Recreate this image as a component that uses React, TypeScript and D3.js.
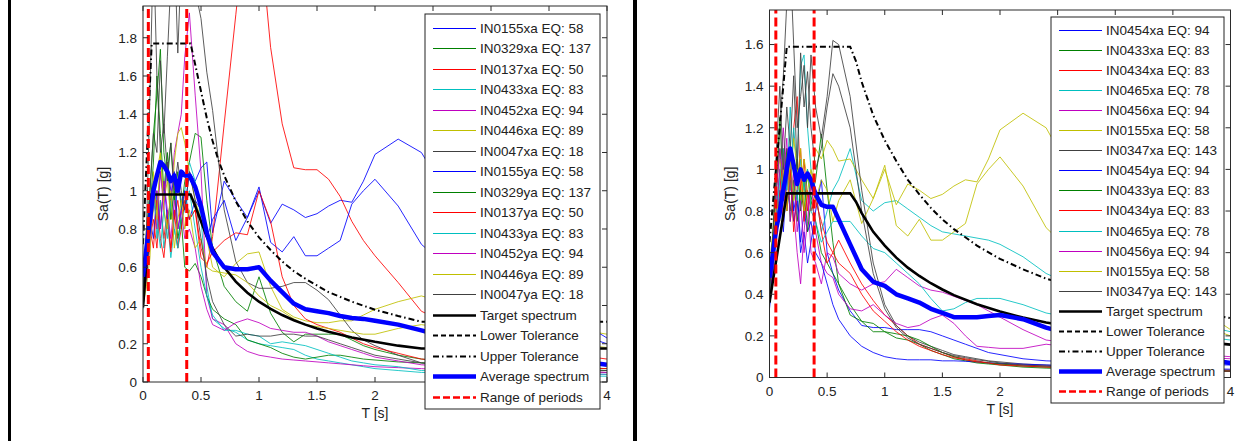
import React from 'react';
import * as d3 from 'd3';

// ---------- shared period grid (s) ----------
const T_GRID = [0, 0.03, 0.06, 0.09, 0.12, 0.15, 0.18, 0.21, 0.24, 0.27, 0.30, 0.33, 0.36, 0.40, 0.45, 0.50, 0.55, 0.60, 0.70, 0.80, 0.90, 1.0, 1.1, 1.2, 1.3, 1.4, 1.5, 1.6, 1.7, 1.8, 1.9, 2.0, 2.2, 2.4, 3.0, 4.0];

const X_TICKS = [0, 0.5, 1, 1.5, 2, 2.5, 3, 3.5, 4];
const X_TICK_LABELS = ['0', '0.5', '1', '1.5', '2', '2.5', '3', '3.5', '4'];
const L_Y_TICKS = [0, 0.2, 0.4, 0.6, 0.8, 1, 1.2, 1.4, 1.6, 1.8];
const L_Y_TICK_LABELS = ['0', '0.2', '0.4', '0.6', '0.8', '1', '1.2', '1.4', '1.6', '1.8'];
const R_Y_TICKS = [0, 0.2, 0.4, 0.6, 0.8, 1, 1.2, 1.4, 1.6];
const R_Y_TICK_LABELS = ['0', '0.2', '0.4', '0.6', '0.8', '1', '1.2', '1.4', '1.6'];

// ---------- left panel records ----------
const L_NAMES = ['IN0155xa EQ: 58', 'IN0329xa EQ: 137', 'IN0137xa EQ: 50', 'IN0433xa EQ: 83', 'IN0452xa EQ: 94', 'IN0446xa EQ: 89', 'IN0047xa EQ: 18', 'IN0155ya EQ: 58', 'IN0329ya EQ: 137', 'IN0137ya EQ: 50', 'IN0433ya EQ: 83', 'IN0452ya EQ: 94', 'IN0446ya EQ: 89', 'IN0047ya EQ: 18'];

const L_IN0155XA = [0.55, 0.7, 0.95, 1.05, 0.9, 1.1, 0.95, 1.15, 1.0, 0.85, 1.05, 0.95, 0.9, 1.1, 1.05, 1.12, 1.15, 0.78, 1.05, 0.95, 0.86, 1.0, 0.83, 0.93, 0.9, 0.86, 0.88, 0.92, 0.95, 0.94, 1.05, 1.19, 1.27, 1.2, 0.6, 0.23];
const L_IN0329XA = [0.5, 0.8, 1.0, 1.3, 1.5, 1.74, 1.2, 1.05, 1.25, 0.95, 1.1, 0.9, 1.05, 1.15, 1.3, 1.28, 0.95, 0.7, 0.5, 0.42, 0.37, 0.55, 0.36, 0.26, 0.21, 0.25, 0.25, 0.25, 0.25, 0.22, 0.19, 0.17, 0.14, 0.12, 0.09, 0.07];
const L_IN0137XA = [0.45, 0.6, 0.75, 0.85, 0.7, 0.95, 0.75, 0.9, 0.7, 0.85, 0.95, 0.8, 1.0, 0.85, 0.9, 0.7, 0.6, 0.76, 1.35, 1.92, 2.5, 2.4, 1.75, 1.35, 1.12, 1.11, 1.11, 1.06, 0.97, 0.84, 0.74, 0.66, 0.52, 0.37, 0.2, 0.12];
const L_IN0433XA = [0.38, 0.55, 0.85, 1.05, 0.75, 0.95, 0.7, 0.85, 0.65, 0.8, 0.7, 0.9, 1.0, 1.15, 1.05, 0.85, 0.5, 0.33, 0.28, 0.26, 0.22, 0.2, 0.19, 0.18, 0.17, 0.14, 0.12, 0.11, 0.1, 0.09, 0.08, 0.07, 0.06, 0.05, 0.04, 0.03];
const L_IN0452XA = [0.45, 0.6, 0.85, 1.0, 0.8, 1.1, 0.9, 1.15, 0.95, 1.2, 1.3, 1.4, 1.7, 1.93, 1.5, 1.1, 0.45, 0.33, 0.3, 0.2, 0.16, 0.14, 0.13, 0.12, 0.115, 0.11, 0.105, 0.1, 0.095, 0.09, 0.085, 0.08, 0.075, 0.07, 0.05, 0.04];
const L_IN0446XA = [0.5, 0.6, 0.75, 0.9, 1.1, 1.2, 0.95, 1.05, 0.85, 1.15, 1.3, 1.33, 1.25, 1.1, 0.95, 0.85, 0.75, 0.6, 0.55, 0.62, 0.67, 0.68, 0.5, 0.38, 0.34, 0.32, 0.31, 0.31, 0.32, 0.32, 0.35, 0.38, 0.42, 0.45, 0.35, 0.25];
const L_IN0047XA = [0.45, 0.7, 1.0, 1.3, 1.2, 1.68, 1.3, 1.7, 2.1, 2.3, 1.72, 2.2, 2.3, 2.2, 2.05, 1.9, 1.62, 1.42, 0.9, 0.63, 0.52, 0.49, 0.49, 0.5, 0.52, 0.52, 0.48, 0.43, 0.35, 0.27, 0.22, 0.19, 0.14, 0.1, 0.07, 0.05];
const L_IN0155YA = [0.5, 0.65, 0.85, 0.75, 1.0, 0.8, 1.05, 0.85, 0.95, 1.1, 0.8, 0.9, 1.0, 0.85, 0.95, 0.9, 0.75, 0.85, 0.95, 0.74, 0.86, 1.02, 0.73, 0.68, 0.76, 0.66, 0.66, 0.7, 0.74, 0.93, 1.0, 1.06, 0.92, 0.72, 0.4, 0.2];
const L_IN0329YA = [0.45, 0.7, 0.9, 1.15, 1.6, 1.3, 1.0, 1.2, 0.85, 1.0, 0.75, 0.85, 0.6, 0.58, 0.62, 0.55, 0.45, 0.38, 0.33, 0.3, 0.22, 0.2, 0.18, 0.15, 0.13, 0.12, 0.13, 0.14, 0.14, 0.13, 0.12, 0.115, 0.105, 0.1, 0.08, 0.06];
const L_IN0137YA = [0.42, 0.55, 0.8, 0.7, 0.95, 0.75, 0.65, 0.85, 0.68, 0.9, 0.7, 0.8, 0.95, 0.85, 0.9, 0.65, 0.62, 0.68, 0.74, 0.78, 0.77, 1.0, 0.84, 0.55, 0.4, 0.33, 0.3, 0.28, 0.26, 0.23, 0.2, 0.18, 0.15, 0.12, 0.09, 0.07];
const L_IN0433YA = [0.4, 0.6, 0.75, 0.95, 0.85, 0.7, 0.9, 0.75, 0.95, 0.8, 0.7, 0.85, 0.9, 1.0, 0.8, 0.6, 0.45, 0.35, 0.27, 0.27, 0.25, 0.24, 0.2, 0.21, 0.2, 0.19, 0.17, 0.15, 0.13, 0.11, 0.1, 0.09, 0.08, 0.06, 0.05, 0.04];
const L_IN0452YA = [0.4, 0.55, 0.7, 0.95, 1.0, 0.8, 1.05, 0.9, 0.75, 0.95, 0.8, 0.9, 0.75, 0.8, 0.7, 0.5, 0.38, 0.3, 0.27, 0.31, 0.33, 0.31, 0.28, 0.27, 0.26, 0.26, 0.24, 0.21, 0.19, 0.17, 0.15, 0.13, 0.11, 0.09, 0.07, 0.05];
const L_IN0446YA = [0.4, 0.5, 0.65, 1.1, 0.85, 1.2, 0.9, 0.8, 1.0, 0.7, 0.85, 0.95, 0.8, 0.9, 0.7, 0.75, 0.6, 0.58, 0.57, 0.56, 0.52, 0.45, 0.4, 0.37, 0.33, 0.3, 0.29, 0.28, 0.27, 0.26, 0.25, 0.25, 0.28, 0.3, 0.25, 0.18];
const L_IN0047YA = [0.4, 0.8, 1.5, 2.3, 1.6, 1.2, 1.35, 1.1, 1.25, 1.0, 1.15, 1.0, 0.9, 1.1, 0.95, 0.75, 0.55, 0.42, 0.3, 0.24, 0.25, 0.24, 0.24, 0.25, 0.25, 0.24, 0.24, 0.22, 0.2, 0.18, 0.16, 0.14, 0.12, 0.1, 0.08, 0.06];

const L_AVERAGE = [0.55, 0.7, 0.85, 1.0, 1.08, 1.15, 1.13, 1.1, 1.05, 1.08, 1.0, 1.1, 1.08, 1.08, 1.02, 0.92, 0.78, 0.68, 0.6, 0.59, 0.59, 0.6, 0.53, 0.47, 0.41, 0.38, 0.37, 0.36, 0.345, 0.335, 0.33, 0.32, 0.3, 0.27, 0.17, 0.09];

const L_TARGET_T = [0, 0.075, 0.41, 0.45, 0.5, 0.55, 0.6, 0.65, 0.7, 0.8, 0.9, 1.0, 1.1, 1.2, 1.3, 1.4, 1.5, 1.6, 1.8, 2.0, 2.2, 2.4, 4.0];
const L_TARGET = [0.39, 0.98, 0.98, 0.92, 0.84, 0.76, 0.70, 0.645, 0.60, 0.525, 0.467, 0.42, 0.382, 0.35, 0.323, 0.30, 0.28, 0.263, 0.233, 0.21, 0.19, 0.175, 0.175];
const L_UPPER = [0.72, 1.77, 1.77, 1.66, 1.52, 1.38, 1.26, 1.16, 1.08, 0.945, 0.84, 0.756, 0.69, 0.63, 0.58, 0.54, 0.505, 0.47, 0.42, 0.378, 0.345, 0.315, 0.315];
const L_RANGE = [0.046, 0.377];

// ---------- right panel records ----------
const R_NAMES = ['IN0454xa EQ: 94', 'IN0433xa EQ: 83', 'IN0434xa EQ: 83', 'IN0465xa EQ: 78', 'IN0456xa EQ: 94', 'IN0155xa EQ: 58', 'IN0347xa EQ: 143', 'IN0454ya EQ: 94', 'IN0433ya EQ: 83', 'IN0434ya EQ: 83', 'IN0465ya EQ: 78', 'IN0456ya EQ: 94', 'IN0155ya EQ: 58', 'IN0347ya EQ: 143'];

const R_IN0454XA = [0.33, 0.5, 0.7, 0.85, 1.0, 0.8, 0.95, 0.75, 0.85, 0.6, 0.7, 0.55, 0.65, 0.8, 0.95, 0.6, 0.5, 0.42, 0.32, 0.25, 0.24, 0.24, 0.23, 0.23, 0.23, 0.22, 0.2, 0.18, 0.16, 0.14, 0.12, 0.11, 0.09, 0.08, 0.07, 0.06];
const R_IN0433XA = [0.4, 0.6, 0.9, 1.1, 0.85, 1.0, 0.8, 0.95, 0.75, 0.9, 0.8, 1.0, 0.85, 0.95, 1.17, 0.9, 0.65, 0.45, 0.3, 0.27, 0.26, 0.22, 0.19, 0.18, 0.16, 0.13, 0.11, 0.09, 0.08, 0.07, 0.065, 0.06, 0.05, 0.045, 0.035, 0.03];
const R_IN0434XA = [0.45, 0.6, 0.8, 1.0, 0.75, 1.1, 0.9, 1.2, 1.35, 0.9, 1.05, 0.8, 0.95, 0.85, 0.75, 0.65, 0.6, 0.66, 0.55, 0.45, 0.37, 0.3, 0.25, 0.2, 0.16, 0.14, 0.12, 0.1, 0.09, 0.08, 0.07, 0.065, 0.06, 0.055, 0.045, 0.035];
const R_IN0465XA = [0.35, 0.55, 0.8, 1.0, 0.85, 1.1, 0.9, 1.2, 1.0, 1.5, 1.55, 1.2, 1.0, 0.9, 0.7, 0.8, 0.9, 0.95, 1.1, 0.85, 0.8, 0.84, 0.85, 0.81, 0.77, 0.73, 0.7, 0.69, 0.68, 0.67, 0.66, 0.64, 0.58, 0.5, 0.35, 0.22];
const R_IN0456XA = [0.4, 0.55, 0.8, 1.0, 1.2, 0.9, 1.1, 0.8, 0.6, 0.45, 0.7, 0.9, 0.6, 0.55, 0.45, 0.6, 0.58, 0.5, 0.45, 0.42, 0.45, 0.46, 0.52, 0.48, 0.44, 0.42, 0.41, 0.39, 0.37, 0.35, 0.32, 0.29, 0.23, 0.18, 0.14, 0.1];
const R_IN0155XA = [0.55, 0.7, 0.95, 1.05, 0.9, 1.1, 0.95, 1.15, 1.0, 0.85, 1.05, 0.95, 0.9, 1.1, 1.05, 1.14, 1.1, 1.04, 1.05, 0.95, 0.86, 1.0, 0.83, 0.93, 0.9, 0.86, 0.88, 0.92, 0.95, 0.94, 1.05, 1.19, 1.27, 1.2, 0.6, 0.23];
const R_IN0347XA = [0.4, 0.6, 0.9, 1.2, 1.45, 1.8, 2.0, 1.6, 1.2, 1.35, 1.5, 1.2, 1.55, 1.3, 1.15, 1.35, 1.62, 1.6, 1.35, 0.9, 0.55, 0.35, 0.25, 0.2, 0.17, 0.15, 0.13, 0.11, 0.1, 0.09, 0.08, 0.075, 0.065, 0.06, 0.045, 0.035];
const R_IN0454YA = [0.35, 0.55, 0.75, 0.9, 0.7, 0.95, 1.05, 0.8, 0.9, 0.65, 0.8, 0.7, 0.75, 0.6, 0.55, 0.45, 0.35, 0.28, 0.2, 0.15, 0.12, 0.1, 0.09, 0.085, 0.085, 0.085, 0.08, 0.08, 0.078, 0.075, 0.07, 0.068, 0.064, 0.06, 0.05, 0.04];
const R_IN0433YA = [0.45, 0.7, 0.95, 1.25, 0.9, 1.1, 0.75, 0.9, 1.05, 0.8, 0.95, 0.7, 0.85, 0.75, 0.6, 0.55, 0.5, 0.45, 0.35, 0.27, 0.22, 0.22, 0.21, 0.2, 0.18, 0.15, 0.12, 0.1, 0.085, 0.075, 0.07, 0.065, 0.055, 0.05, 0.04, 0.03];
const R_IN0434YA = [0.4, 0.55, 0.7, 0.9, 1.1, 0.8, 1.0, 0.7, 0.9, 1.1, 0.75, 0.9, 0.8, 0.9, 0.7, 0.55, 0.6, 0.55, 0.5, 0.4, 0.32, 0.27, 0.22, 0.18, 0.15, 0.13, 0.11, 0.095, 0.085, 0.075, 0.07, 0.06, 0.055, 0.05, 0.04, 0.03];
const R_IN0465YA = [0.4, 0.6, 0.75, 0.95, 1.1, 0.9, 1.3, 1.0, 0.85, 1.05, 0.9, 1.0, 0.8, 0.75, 0.65, 0.7, 0.75, 0.75, 0.75, 0.68, 0.62, 0.6, 0.55, 0.5, 0.45, 0.38, 0.32, 0.33, 0.36, 0.38, 0.38, 0.38, 0.35, 0.31, 0.25, 0.18];
const R_IN0456YA = [0.45, 0.6, 0.9, 1.1, 0.95, 1.15, 0.75, 1.0, 0.7, 0.85, 0.6, 0.75, 0.95, 0.7, 0.55, 0.5, 0.48, 0.4, 0.33, 0.32, 0.35, 0.3, 0.26, 0.24, 0.25, 0.28, 0.3, 0.26, 0.2, 0.15, 0.145, 0.14, 0.14, 0.16, 0.12, 0.09];
const R_IN0155YA = [0.5, 0.65, 0.85, 0.75, 1.0, 0.8, 1.05, 0.85, 0.95, 1.1, 0.8, 0.9, 1.0, 0.85, 0.95, 0.9, 0.75, 0.85, 0.95, 0.74, 0.86, 1.02, 0.73, 0.68, 0.76, 0.66, 0.66, 0.7, 0.74, 0.93, 1.0, 1.06, 0.92, 0.72, 0.4, 0.2];
const R_IN0347YA = [0.38, 0.7, 1.1, 1.4, 1.0, 1.3, 1.1, 1.45, 1.0, 1.56, 1.3, 1.47, 1.2, 1.0, 1.1, 1.3, 1.46, 1.4, 1.2, 0.8, 0.5, 0.33, 0.24, 0.19, 0.16, 0.14, 0.12, 0.105, 0.095, 0.085, 0.078, 0.07, 0.06, 0.055, 0.04, 0.03];

const R_AVERAGE = [0.48, 0.6, 0.72, 0.8, 0.9, 1.0, 1.1, 1.02, 0.93, 1.0, 0.95, 0.98, 0.95, 0.88, 0.83, 0.82, 0.82, 0.76, 0.64, 0.52, 0.46, 0.44, 0.4, 0.38, 0.36, 0.33, 0.31, 0.29, 0.29, 0.29, 0.295, 0.3, 0.28, 0.24, 0.15, 0.07];

const R_TARGET_T = [0, 0.15, 0.7, 0.75, 0.8, 0.85, 0.9, 1.0, 1.1, 1.2, 1.3, 1.4, 1.5, 1.6, 1.8, 2.0, 2.2, 2.4, 3.0, 4.0];
const R_TARGET = [0.36, 0.885, 0.885, 0.845, 0.79, 0.745, 0.70, 0.634, 0.576, 0.528, 0.488, 0.453, 0.423, 0.396, 0.352, 0.317, 0.288, 0.264, 0.211, 0.158];
const R_UPPER = [0.65, 1.59, 1.59, 1.52, 1.42, 1.34, 1.26, 1.14, 1.04, 0.95, 0.88, 0.815, 0.76, 0.713, 0.634, 0.57, 0.52, 0.475, 0.38, 0.285];
const R_RANGE = [0.055, 0.387];

// ---------- styles ----------
const REC_COLORS = ['#0000ff', '#008000', '#ff0000', '#00bfbf', '#bf00bf', '#bfbf00', '#404040'];
const FONT = 'Liberation Sans, Arial, Helvetica, sans-serif';
const AX = '#2b2b2b';

type PanelCfg = {
  id: string;
  left: number; right: number; top: number; bottom: number; yMax: number;
  yTicks: number[]; yTickLabels: string[];
  names: string[]; records: number[][]; average: number[];
  targetT: number[]; target: number[]; upper: number[]; range: number[];
  legend: { x: number; y: number; w: number; h: number; first: number; step: number };
};

function Panel({ c }: { c: PanelCfg }) {
  const x = d3.scaleLinear().domain([0, 4]).range([c.left, c.right]);
  const y = d3.scaleLinear().domain([0, c.yMax]).range([c.bottom, c.top]);
  const line = d3.line<[number, number]>().x(d => x(d[0])).y(d => y(d[1]));
  const path = (ts: number[], vs: number[]) => line(ts.map((t, i) => [t, vs[i]] as [number, number])) || '';
  const clipId = `clip-${c.id}`;
  const tick = 5;
  const lg = c.legend;
  const entries: { label: string; color: string; w: number; dash?: string }[] = [
    ...c.names.map((n, i) => ({ label: n, color: REC_COLORS[i % 7], w: 1.2 })),
    { label: 'Target spectrum', color: '#000', w: 2.5 },
    { label: 'Lower Tolerance', color: '#000', w: 2, dash: '5,3' },
    { label: 'Upper Tolerance', color: '#000', w: 2, dash: '6,3,1.5,3' },
    { label: 'Average spectrum', color: '#0000ff', w: 4.5 },
    { label: 'Range of periods', color: '#ff0000', w: 2.5, dash: '7,3' },
  ];
  // tick labels hidden behind the legend box are not drawn
  const visibleX = X_TICKS.map((t, i) => ({ t, label: X_TICK_LABELS[i] }))
    .filter(d => x(d.t) + 8 < lg.x || x(d.t) - 4 > lg.x + lg.w);
  return (
    <g>
      <defs>
        <clipPath id={clipId}>
          <rect x={c.left} y={c.top} width={c.right - c.left} height={c.bottom - c.top} />
        </clipPath>
      </defs>
      <rect x={c.left} y={c.top} width={c.right - c.left} height={c.bottom - c.top} fill="#fff" />
      <g clipPath={`url(#${clipId})`} fill="none">
        {c.records.map((r, i) => (
          <path key={i} d={path(T_GRID, r)} stroke={REC_COLORS[i % 7]} strokeWidth={1} strokeOpacity={0.85} strokeLinejoin="round" />
        ))}
        <path d={path(c.targetT, c.target)} stroke="#000" strokeWidth={2.6} />
        <path d={path(c.targetT, c.upper)} stroke="#000" strokeWidth={2} strokeDasharray="6,3,1.5,3" />
        <path d={path(T_GRID, c.average)} stroke="#0000ff" strokeWidth={4.5} strokeLinejoin="round" />
        {c.range.map((t, i) => (
          <line key={i} x1={x(t)} x2={x(t)} y1={c.bottom} y2={c.top} stroke="#ff0000" strokeWidth={3} strokeDasharray="9,4" />
        ))}
      </g>
      {/* axes box */}
      <rect x={c.left} y={c.top} width={c.right - c.left} height={c.bottom - c.top} fill="none" stroke={AX} strokeWidth={1} />
      {X_TICKS.map((t, i) => (
        <g key={'x' + i}>
          <line x1={x(t)} x2={x(t)} y1={c.bottom} y2={c.bottom - tick} stroke={AX} />
          <line x1={x(t)} x2={x(t)} y1={c.top} y2={c.top + tick} stroke={AX} />
        </g>
      ))}
      {visibleX.map((d, i) => (
        <text key={'xl' + i} x={x(d.t)} y={c.bottom + 18} textAnchor="middle" fontFamily={FONT} fontSize={13.5} fill="#222">{d.label}</text>
      ))}
      {c.yTicks.map((t, i) => (
        <g key={'y' + i}>
          <line x1={c.left} x2={c.left + tick} y1={y(t)} y2={y(t)} stroke={AX} />
          <line x1={c.right} x2={c.right - tick} y1={y(t)} y2={y(t)} stroke={AX} />
          <text x={c.left - 6} y={y(t)} dy="0.36em" textAnchor="end" fontFamily={FONT} fontSize={13.5} fill="#222">{c.yTickLabels[i]}</text>
        </g>
      ))}
      <text transform={`translate(${c.left - 40},${(c.top + c.bottom) / 2}) rotate(-90)`} textAnchor="middle" dy="0.36em" fontFamily={FONT} fontSize={14} fill="#222">Sa(T) [g]</text>
      <text x={(c.left + c.right) / 2} y={c.bottom + 31} textAnchor="middle" dy="0.36em" fontFamily={FONT} fontSize={14} fill="#222">T [s]</text>
      {/* legend */}
      <rect x={lg.x} y={lg.y} width={lg.w} height={lg.h} fill="#fff" stroke="#222" strokeWidth={1} />
      {entries.map((e, i) => {
        const yy = Math.round(lg.y + lg.first + i * lg.step) + 0.5;
        return (
          <g key={'l' + i}>
            <line x1={lg.x + 8} x2={lg.x + 51} y1={yy} y2={yy} stroke={e.color} strokeWidth={e.w} strokeDasharray={e.dash} />
            <text x={lg.x + 55} y={yy} dy="0.36em" fontFamily={FONT} fontSize={13.5} fill="#222">{e.label}</text>
          </g>
        );
      })}
    </g>
  );
}

const LEFT: PanelCfg = {
  id: 'L', left: 143, right: 607, top: 6, bottom: 382, yMax: 1.966,
  yTicks: L_Y_TICKS, yTickLabels: L_Y_TICK_LABELS,
  names: L_NAMES,
  records: [L_IN0155XA, L_IN0329XA, L_IN0137XA, L_IN0433XA, L_IN0452XA, L_IN0446XA, L_IN0047XA, L_IN0155YA, L_IN0329YA, L_IN0137YA, L_IN0433YA, L_IN0452YA, L_IN0446YA, L_IN0047YA],
  average: L_AVERAGE, targetT: L_TARGET_T, target: L_TARGET, upper: L_UPPER, range: L_RANGE,
  legend: { x: 425, y: 14, w: 175, h: 395, first: 13.5, step: 20.5 },
};

const RIGHT: PanelCfg = {
  id: 'R', left: 769.5, right: 1230.5, top: 10, bottom: 377.5, yMax: 1.766,
  yTicks: R_Y_TICKS, yTickLabels: R_Y_TICK_LABELS,
  names: R_NAMES,
  records: [R_IN0454XA, R_IN0433XA, R_IN0434XA, R_IN0465XA, R_IN0456XA, R_IN0155XA, R_IN0347XA, R_IN0454YA, R_IN0433YA, R_IN0434YA, R_IN0465YA, R_IN0456YA, R_IN0155YA, R_IN0347YA],
  average: R_AVERAGE, targetT: R_TARGET_T, target: R_TARGET, upper: R_UPPER, range: R_RANGE,
  legend: { x: 1051, y: 17, w: 173, h: 386, first: 13, step: 20.05 },
};

export default function App() {
  return (
    <svg width={1258} height={442} style={{ position: 'absolute', left: 0, top: 0, background: '#fff' }}>
      <rect x={0} y={0} width={1258} height={442} fill="#fff" />
      <rect x={8} y={0} width={3} height={441} fill="#000" />
      <rect x={633} y={0} width={4} height={441} fill="#000" />
      <Panel c={LEFT} />
      <Panel c={RIGHT} />
    </svg>
  );
}
